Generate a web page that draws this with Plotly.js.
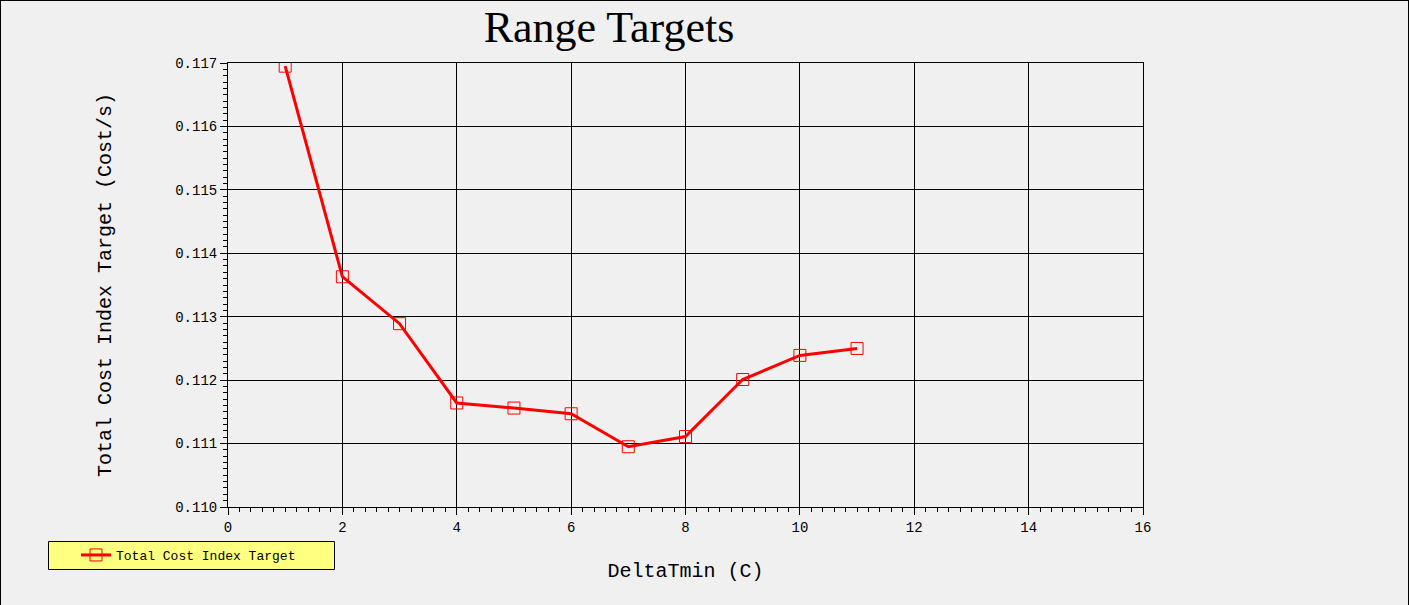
<!DOCTYPE html>
<html>
<head>
<meta charset="utf-8">
<script src="https://cdn.plot.ly/plotly-3.0.1.min.js"></script>
<style>
html,body{margin:0;padding:0;background:#f0f0f0;}
#chart{width:1409px;height:605px;}
</style>
</head>
<body>
<div id="chart"></div>
<script>
// Data
const deltaTmin = [1, 2, 3, 4, 5, 6, 7, 8, 9, 10, 11];
const totalCostIndexTarget = [0.11695, 0.11363, 0.11289, 0.11164, 0.11156, 0.11147, 0.11095, 0.11111, 0.11201, 0.11239, 0.11250];
const seriesName = 'Total Cost Index Target';
const chartTitle = 'Range Targets';
const xTitle = 'DeltaTmin (C)';
const yTitle = 'Total Cost Index Target (Cost/s)';

const W = 1409, H = 605;
const L = 228, R = 1143, T = 63, B = 507;
const pw = R - L, ph = B - T;
const px = v => (v - L) / pw;
const py = v => (B - v) / ph;

const mono = 'Liberation Mono, Courier New, monospace';

const trace = {
  x: deltaTmin,
  y: totalCostIndexTarget,
  name: seriesName,
  type: 'scatter',
  mode: 'lines+markers',
  line: {color: '#ff0000', width: 3},
  marker: {symbol: 'square-open', size: 12, color: '#ff0000', line: {width: 1, color: '#ff0000'}},
  cliponaxis: true,
  showlegend: true
};

const axisCommon = {
  showgrid: true, gridcolor: '#000000', gridwidth: 1,
  showline: true, linecolor: '#000000', linewidth: 1, mirror: true,
  zeroline: false,
  ticks: 'outside', ticklen: 7, tickwidth: 1, tickcolor: '#000000',
  tickfont: {family: mono, size: 14, color: '#000000'}
};

const layout = {
  width: W, height: H,
  paper_bgcolor: '#f0f0f0', plot_bgcolor: '#f0f0f0',
  margin: {l: L, r: W - R, t: T, b: H - B, pad: 0},
  title: {
    text: chartTitle,
    font: {family: 'Liberation Serif, serif', size: 44, color: '#000000'},
    xref: 'container', yref: 'container',
    x: 609 / W, xanchor: 'center',
    y: 1 - 27 / H, yanchor: 'middle'
  },
  xaxis: Object.assign({}, axisCommon, {
    range: [0, 16], dtick: 2, tick0: 0,
    minor: {dtick: 0.2, ticks: 'outside', ticklen: 4, tickcolor: '#000000', showgrid: false},
    title: {text: xTitle, font: {family: mono, size: 20, color: '#000000'}, standoff: 28}
  }),
  yaxis: Object.assign({}, axisCommon, {
    range: [0.110, 0.117], dtick: 0.001, tick0: 0.110,
    tickformat: '.3f',
    minor: {dtick: 0.0001, ticks: 'outside', ticklen: 4, tickcolor: '#000000', showgrid: false},
    title: {text: yTitle, font: {family: mono, size: 20, color: '#000000'}, standoff: 58}
  }),
  showlegend: true,
  legend: {
    x: px(76), xanchor: 'left',
    y: py(555), yanchor: 'middle',
    bgcolor: 'rgba(0,0,0,0)', borderwidth: 0,
    font: {family: mono, size: 13, color: '#000000'}
  },
  shapes: [
    {type: 'rect', xref: 'paper', yref: 'paper', layer: 'below',
     x0: px(48.5), x1: px(334.5), y0: py(541.5), y1: py(569.5),
     fillcolor: '#ffff80', line: {color: '#000000', width: 1}},
    {type: 'line', xref: 'paper', yref: 'paper', x0: px(0.5), x1: px(0.5), y0: py(0), y1: py(H), line: {color: '#000000', width: 1}},
    {type: 'line', xref: 'paper', yref: 'paper', x0: px(1408.5), x1: px(1408.5), y0: py(0), y1: py(H), line: {color: '#000000', width: 1}},
    {type: 'line', xref: 'paper', yref: 'paper', x0: px(0), x1: px(W), y0: py(0.5), y1: py(0.5), line: {color: '#000000', width: 1}}
  ]
};

Plotly.newPlot('chart', [trace], layout, {displayModeBar: false, staticPlot: true});
</script>
</body>
</html>
